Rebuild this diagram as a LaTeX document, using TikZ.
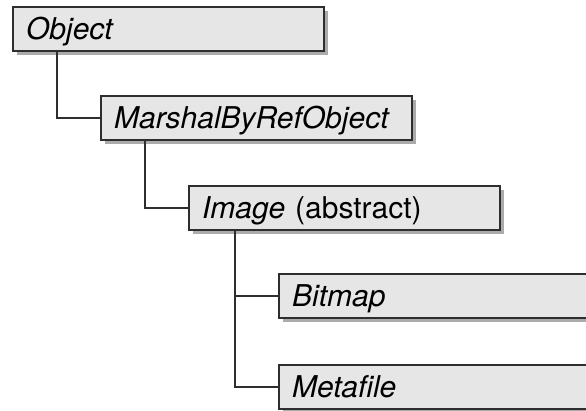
\documentclass[tikz,border=0pt]{standalone}
\usepackage{fontspec}
\setmainfont{TeX Gyre Heros}
\usetikzlibrary{
  positioning,
  calc,
  shadows
}
\definecolor{clsFill}{HTML}{E6E6E6}
\definecolor{clsLine}{HTML}{2E2E2E}
\definecolor{clsShadow}{HTML}{ABABAB}
\tikzset{
  classbox/.style={
    draw=clsLine, line width=2.2pt, fill=clsFill,
    minimum height=43.8pt, text width=284.8pt, inner xsep=13pt, inner ysep=0pt,
    text height=21pt, text depth=0pt,
    align=left, font=\fontsize{30}{34}\selectfont,
    drop shadow={shadow xshift=4pt, shadow yshift=-4pt, fill=clsShadow, opacity=1}
  },
  inherit/.style={line width=2.2pt, clsLine}
}

\begin{document}
\begin{tikzpicture}
  \useasboundingbox (0,0) rectangle (586pt,-411pt);
  \node[classbox, anchor=north west] (obj) at (12pt,-6pt) {\itshape Object};
  \node[classbox, below=43pt of obj.south west, anchor=north west, xshift=88pt] (mbro) {\itshape MarshalByRefObject};
  \node[classbox, below=44pt of mbro.south west, anchor=north west, xshift=88pt] (img) {\textit{Image} (abstract)};
  \node[classbox, below=42pt of img.south west, anchor=north west, xshift=90pt] (bmp) {\itshape Bitmap};
  \node[classbox, below=45pt of bmp.south west, anchor=north west] (meta) {\itshape Metafile};
  % inheritance lines
  \draw[inherit] ($(obj.south west)+(45pt,0)$) |- (mbro.west);
  \draw[inherit] ($(mbro.south west)+(45pt,0)$) |- (img.west);
  \draw[inherit] ($(img.south west)+(47pt,0)$) |- (bmp.west);
  \draw[inherit] ($(img.south west)+(47pt,0)$) |- (meta.west);
\end{tikzpicture}
\end{document}
